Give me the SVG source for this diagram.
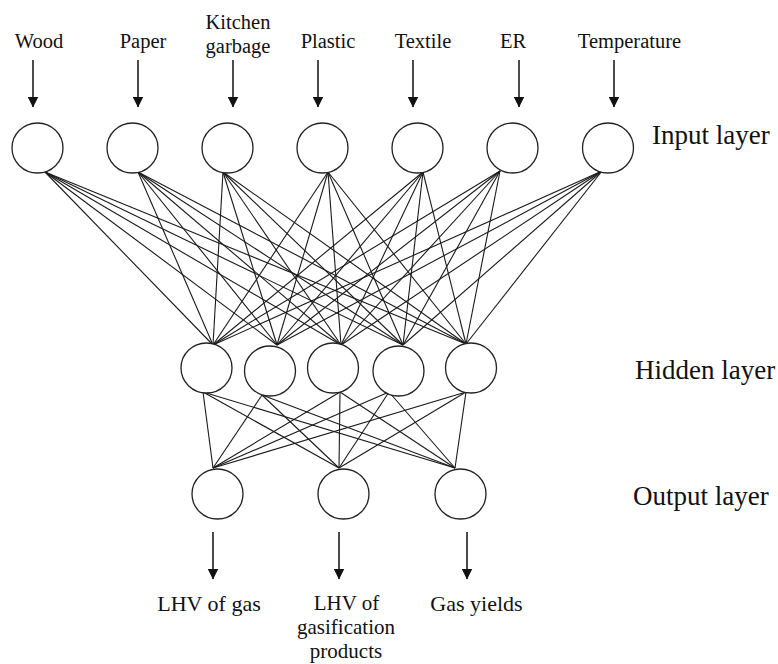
<svg xmlns="http://www.w3.org/2000/svg" width="778" height="664" viewBox="0 0 778 664">
<style>
.n{fill:#fff;stroke:#222;stroke-width:1.3}
.c line{stroke:#1a1a1a;stroke-width:1.1}
.a{stroke:#111;stroke-width:1.5}
.t{font-family:"Liberation Serif","Times New Roman",serif;fill:#111;text-anchor:middle}
.s{font-size:20.5px}
.b{font-size:22px}
.m{font-size:21px}
.l{font-family:"Liberation Serif","Times New Roman",serif;fill:#111;font-size:27px}
</style>
<defs>
<marker id="ah" markerWidth="11" markerHeight="11" viewBox="0 0 11 11" refX="10.5" refY="5.5" orient="auto" markerUnits="userSpaceOnUse">
<path d="M0,0 L11,5.5 L0,11 Z" fill="#111"/>
</marker>
</defs>
<rect width="778" height="664" fill="#fff"/>
<g id="connectors" class="c">
<line x1="45" y1="172" x2="213" y2="345"/><line x1="45" y1="172" x2="277" y2="345"/><line x1="45" y1="172" x2="341" y2="345"/><line x1="45" y1="172" x2="403" y2="345"/><line x1="45" y1="172" x2="466" y2="344"/>
<line x1="138" y1="172" x2="213" y2="345"/><line x1="138" y1="172" x2="277" y2="345"/><line x1="138" y1="172" x2="341" y2="345"/><line x1="138" y1="172" x2="403" y2="345"/><line x1="138" y1="172" x2="466" y2="344"/>
<line x1="223" y1="172" x2="213" y2="345"/><line x1="223" y1="172" x2="277" y2="345"/><line x1="223" y1="172" x2="341" y2="345"/><line x1="223" y1="172" x2="403" y2="345"/><line x1="223" y1="172" x2="466" y2="344"/>
<line x1="328" y1="172" x2="213" y2="345"/><line x1="328" y1="172" x2="277" y2="345"/><line x1="328" y1="172" x2="341" y2="345"/><line x1="328" y1="172" x2="403" y2="345"/><line x1="328" y1="172" x2="466" y2="344"/>
<line x1="423" y1="172" x2="213" y2="345"/><line x1="423" y1="172" x2="277" y2="345"/><line x1="423" y1="172" x2="341" y2="345"/><line x1="423" y1="172" x2="403" y2="345"/><line x1="423" y1="172" x2="466" y2="344"/>
<line x1="500" y1="171" x2="213" y2="345"/><line x1="500" y1="171" x2="277" y2="345"/><line x1="500" y1="171" x2="341" y2="345"/><line x1="500" y1="171" x2="403" y2="345"/><line x1="500" y1="171" x2="466" y2="344"/>
<line x1="602" y1="171" x2="213" y2="345"/><line x1="602" y1="171" x2="277" y2="345"/><line x1="602" y1="171" x2="341" y2="345"/><line x1="602" y1="171" x2="403" y2="345"/><line x1="602" y1="171" x2="466" y2="344"/>
<line x1="203" y1="392" x2="213" y2="468"/><line x1="203" y1="392" x2="339" y2="468"/><line x1="203" y1="392" x2="455" y2="468"/>
<line x1="262" y1="395" x2="213" y2="468"/><line x1="262" y1="395" x2="339" y2="468"/><line x1="262" y1="395" x2="455" y2="468"/>
<line x1="340" y1="392" x2="213" y2="468"/><line x1="340" y1="392" x2="339" y2="468"/><line x1="340" y1="392" x2="455" y2="468"/>
<line x1="389" y1="392" x2="213" y2="468"/><line x1="389" y1="392" x2="339" y2="468"/><line x1="389" y1="392" x2="455" y2="468"/>
<line x1="466" y1="392" x2="213" y2="468"/><line x1="466" y1="392" x2="339" y2="468"/><line x1="466" y1="392" x2="455" y2="468"/>
</g>
<g id="arrows">
<line class="a" x1="33" y1="60" x2="33" y2="107" marker-end="url(#ah)"/>
<line class="a" x1="138" y1="60" x2="138" y2="107" marker-end="url(#ah)"/>
<line class="a" x1="233" y1="60" x2="233" y2="107" marker-end="url(#ah)"/>
<line class="a" x1="318" y1="60" x2="318" y2="107" marker-end="url(#ah)"/>
<line class="a" x1="413" y1="60" x2="413" y2="107" marker-end="url(#ah)"/>
<line class="a" x1="519" y1="60" x2="519" y2="107" marker-end="url(#ah)"/>
<line class="a" x1="614" y1="60" x2="614" y2="107" marker-end="url(#ah)"/>
<line class="a" x1="213" y1="532" x2="213" y2="579" marker-end="url(#ah)"/>
<line class="a" x1="339" y1="532" x2="339" y2="579" marker-end="url(#ah)"/>
<line class="a" x1="467" y1="532" x2="467" y2="579" marker-end="url(#ah)"/>
</g>
<g id="in-wood"><ellipse class="n" cx="37.5" cy="148" rx="25.5" ry="25"/><text class="t s" x="39" y="48">Wood</text></g>
<g id="in-paper"><ellipse class="n" cx="132.5" cy="148" rx="25.5" ry="25"/><text class="t s" x="143" y="48">Paper</text></g>
<g id="in-kitchen"><ellipse class="n" cx="227.5" cy="148" rx="25.5" ry="25"/><text class="t s" x="238" y="29">Kitchen</text><text class="t s" x="238" y="53">garbage</text></g>
<g id="in-plastic"><ellipse class="n" cx="322.5" cy="148" rx="25.5" ry="25"/><text class="t s" x="328" y="48">Plastic</text></g>
<g id="in-textile"><ellipse class="n" cx="417.5" cy="148" rx="25.5" ry="25"/><text class="t s" x="423" y="48">Textile</text></g>
<g id="in-er"><ellipse class="n" cx="512.5" cy="148" rx="25.5" ry="25"/><text class="t s" x="513" y="48">ER</text></g>
<g id="in-temp"><ellipse class="n" cx="608" cy="148" rx="25.5" ry="25"/><text class="t s" x="629.5" y="48">Temperature</text></g>
<g id="h1"><ellipse class="n" cx="206.5" cy="368" rx="25.5" ry="25"/></g>
<g id="h2"><ellipse class="n" cx="270" cy="371" rx="25.5" ry="25"/></g>
<g id="h3"><ellipse class="n" cx="333" cy="368" rx="25.5" ry="25"/></g>
<g id="h4"><ellipse class="n" cx="398.5" cy="371" rx="25.5" ry="25"/></g>
<g id="h5"><ellipse class="n" cx="471" cy="368" rx="25.5" ry="25"/></g>
<g id="o1"><ellipse class="n" cx="217.5" cy="494" rx="25.5" ry="25"/><text class="t b" x="209" y="611">LHV of gas</text></g>
<g id="o2"><ellipse class="n" cx="343.5" cy="494" rx="25.5" ry="25"/><text class="t m" x="346.5" y="610">LHV of</text><text class="t m" x="346" y="634">gasification</text><text class="t m" x="346" y="658">products</text></g>
<g id="o3"><ellipse class="n" cx="460.5" cy="494" rx="25.5" ry="25"/><text class="t b" x="476.5" y="611">Gas yields</text></g>
<g id="labels">
<text class="l" x="652" y="144">Input layer</text>
<text class="l" x="635" y="379">Hidden layer</text>
<text class="l" x="633" y="505">Output layer</text>
</g>
</svg>
